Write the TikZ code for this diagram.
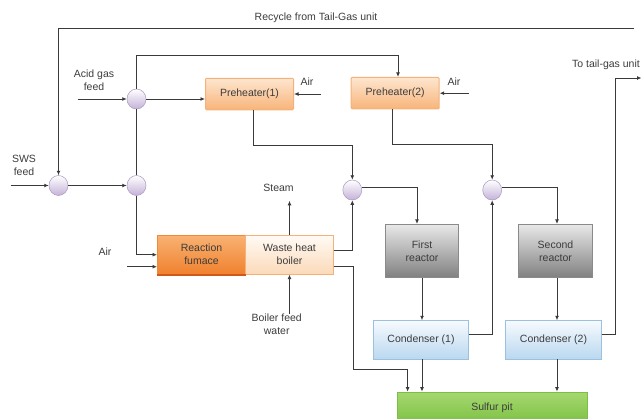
\documentclass[tikz,border=0pt]{standalone}
\usepackage{fontspec}
\setmainfont{Liberation Sans}
\usetikzlibrary{arrows.meta,shapes.geometric,calc}
\definecolor{ln}{HTML}{3A3A3A}
\definecolor{tx}{HTML}{3C3C3C}
\definecolor{mixb}{HTML}{A898C0}
\definecolor{mixc}{HTML}{C4B2D8}
\definecolor{phb}{HTML}{F4B27A}
\definecolor{phtop}{HTML}{FDE6CF}
\definecolor{phbot}{HTML}{F8B47A}
\definecolor{fub}{HTML}{EE8A3A}
\definecolor{futop}{HTML}{F9B273}
\definecolor{fubot}{HTML}{F0812E}
\definecolor{fuedge}{HTML}{D0581A}
\definecolor{whtop}{HTML}{FFFBF6}
\definecolor{whbot}{HTML}{FBD9B8}
\definecolor{rxb}{HTML}{8A8A8A}
\definecolor{rxtop}{HTML}{E8E8E8}
\definecolor{rxbot}{HTML}{808080}
\definecolor{cob}{HTML}{9CC0E0}
\definecolor{cotop}{HTML}{F6FAFE}
\definecolor{cobot}{HTML}{BAD8F0}
\definecolor{pib}{HTML}{7DBE45}
\definecolor{pitop}{HTML}{A6D870}
\definecolor{pibot}{HTML}{7CC043}
\begin{document}
\begin{tikzpicture}[x=1pt,y=-1pt,
  font=\fontsize{10.5}{13}\selectfont, text=tx,
  flow/.style={draw=ln, line width=1pt, -{Latex[length=4.5pt,width=4pt]}},
  pipe/.style={draw=ln, line width=1pt},
  lbl/.style={align=center, inner sep=0pt},
  mixer/.style={ellipse, minimum width=19pt, minimum height=20pt, inner sep=0pt, draw=mixb, line width=0.5pt, top color=white, bottom color=mixc},
  preh/.style={rectangle, rounded corners=1pt, minimum width=88pt, minimum height=31.5pt, draw=phb, line width=1pt, top color=phtop, bottom color=phbot},
  furnbox/.style={rectangle, minimum width=88.4pt, minimum height=39.3pt, draw=fub, line width=0.6pt, top color=futop, bottom color=fubot, align=center},
  whbbox/.style={rectangle, minimum width=87.6pt, minimum height=39.3pt, draw=phb, line width=0.6pt, top color=whtop, bottom color=whbot, align=center},
  reactbox/.style={rectangle, minimum width=73.4pt, minimum height=53.4pt, draw=rxb, line width=0.8pt, top color=rxtop, bottom color=rxbot, align=center},
  condbox/.style={rectangle, minimum width=95.4pt, minimum height=38.3pt, draw=cob, line width=0.8pt, top color=cotop, bottom color=cobot},
  pitbox/.style={rectangle, minimum width=190pt, minimum height=32pt, draw=pib, line width=0.8pt, top color=pitop, bottom color=pibot}
]
\useasboundingbox (0,0) rectangle (642,418);
\clip (0,0) rectangle (642,418);

% texts
\node[lbl] (rectxt) at (316,17.3) {Recycle from Tail-Gas unit};
\node[lbl, anchor=east] (tgtxt) at (640,65) {To tail-gas unit};
\node[lbl] (acidtxt) at (94,80) {Acid gas\\feed};
\node[lbl] (swstxt) at (24,165) {SWS\\feed};
\node[lbl] (air1txt) at (307,82) {Air};
\node[lbl] (air2txt) at (454,82) {Air};
\node[lbl] (air3txt) at (105,252) {Air};
\node[lbl] (steamtxt) at (278.5,188) {Steam};
\node[lbl] (bfw) at (276.7,324.2) {Boiler feed\\water};

% mixers
\node[mixer] (m1) at (58.5,185.5) {};
\node[mixer] (m2) at (136.5,185.5) {};
\node[mixer] (ma) at (136.5,99) {};
\node[mixer] (m3) at (352.3,190) {};
\node[mixer] (m4) at (492.2,190) {};

% units
\node[preh] (ph1) at (249.5,94) {Preheater(1)};
\node[preh] (ph2) at (395.2,93.2) {Preheater(2)};
\node[furnbox] (furn) at (201.5,254.7) {Reaction\\fumace};
\node[whbbox] (whb) at (289.5,254.7) {Waste heat\\boiler};
\draw[fuedge, line width=1.4pt] ([yshift=-0.5pt]furn.south west) -- ([yshift=-0.5pt]furn.south east);
\node[reactbox] (r1) at (422,251) {First\\reactor};
\node[reactbox] (r2) at (555.5,251) {Second\\reactor};
\node[condbox] (c1) at (421,339.8) {Condenser (1)};
\node[condbox] (c2) at (553.5,339.8) {Condenser (2)};
\node[pitbox] (pit) at (492,408) {Sulfur pit};

% free ends
\coordinate (recin) at (634,28);
\coordinate (swsin) at (10.5,185.5);
\coordinate (acidin) at (77.7,99);
\coordinate (air1in) at (321,94);
\coordinate (air2in) at (469,93.2);
\coordinate (air3in) at (127,266.7);
\coordinate (tgout) at (641.5,78);

% connectors
\draw[flow] (recin) -| (m1.north);
\draw[flow] (swsin) -- (m1.west);
\draw[flow] (m1.east) -- (m2.west);
\draw[flow] (acidin) -- (ma.west);
\draw[flow] (ma.east) -- (ma.east -| ph1.west);
\draw[flow] (ma.north) |- (398,55) -- ([xshift=2.8pt]ph2.north);
\draw[pipe] (ma.south) -- (m2.north);
\draw[flow] (m2.south) |- (furn.west);
\draw[flow] (air3in) -- (air3in -| furn.west);
\draw[flow] (air1in) -- (ph1.east);
\draw[flow] (air2in) -- (ph2.east);
\draw[flow] ([xshift=3.8pt]ph1.south) -- ++(0,35) -| (m3.north);
\draw[flow] ([xshift=-2.5pt]ph2.south) -- ++(0,35) -| (m4.north);
\draw[flow] (whb.north) -- ++(0,-34);
\draw[flow] (bfw.north -| whb.south) -- (whb.south);
\draw[flow] ([yshift=4pt]whb.east) -| (m3.south);
\draw[flow] ([yshift=-12pt]whb.east) -| (353.3,369) -| ([xshift=11pt]pit.north west);
\draw[flow] ([yshift=3pt]m3.east) -| ([xshift=-5pt]r1.north);
\draw[flow] (r1.south) -- (r1.south |- c1.north);
\draw[flow] ([yshift=5pt]c1.east) -| (m4.south);
\draw[flow] (r1.south |- c1.south) -- (r1.south |- pit.north);
\draw[flow] ([yshift=3pt]m4.east) -| ([xshift=1.5pt]r2.north);
\draw[flow] ([xshift=1.5pt]r2.south) -- ([xshift=1.5pt]r2.south |- c2.north);
\draw[flow] ([xshift=1.5pt]r2.south |- c2.south) -- ([xshift=1.5pt]r2.south |- pit.north);
\draw[flow] ([yshift=5pt]c2.east) -| (615,78) -- (tgout);
\end{tikzpicture}
\end{document}
